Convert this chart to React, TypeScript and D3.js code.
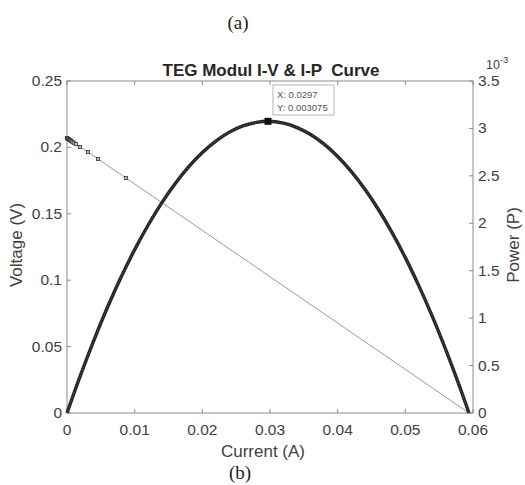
import React, { useEffect, useRef } from "react";
import * as d3 from "d3";

// I-V points (current A, voltage V)
const ivCurrent = [0, 0.0001, 0.0002, 0.0003, 0.0004, 0.0005, 0.0006, 0.0008, 0.001, 0.0013, 0.0019, 0.0031, 0.0046, 0.0087, 0.0594];
const ivVoltage = [0.207, 0.2067, 0.2063, 0.206, 0.2056, 0.2053, 0.2049, 0.2042, 0.2035, 0.2025, 0.2003, 0.1965, 0.1913, 0.177, 0];

// I-P points (current A, power W)
const ipCurrent = [0, 0.002, 0.004, 0.006, 0.008, 0.01, 0.012, 0.014, 0.016, 0.018, 0.02, 0.022, 0.024, 0.026, 0.028, 0.0297, 0.032, 0.034, 0.036, 0.038, 0.04, 0.042, 0.044, 0.046, 0.048, 0.05, 0.052, 0.054, 0.056, 0.058, 0.0594];
const ipPower = [0, 0.0004, 0.000772, 0.001117, 0.001433, 0.001722, 0.001982, 0.002215, 0.00242, 0.002597, 0.002746, 0.002867, 0.002961, 0.003026, 0.003064, 0.003075, 0.003055, 0.003009, 0.002936, 0.002834, 0.002704, 0.002547, 0.002361, 0.002148, 0.001907, 0.001638, 0.00134, 0.001016, 0.000663, 0.000283, 0];

const xTicks = [0, 0.01, 0.02, 0.03, 0.04, 0.05, 0.06];
const vTicks = [0, 0.05, 0.1, 0.15, 0.2, 0.25];
const pTicks = [0, 0.5, 1, 1.5, 2, 2.5, 3, 3.5];

const peak = { x: 0.0297, y: 0.003075 };

const W = 525;
const H = 485;
const font = "Liberation Sans, Arial, sans-serif";
const serif = "Liberation Serif, Times New Roman, serif";
const axisColor = "#8c8c8c";
const textColor = "#404040";

export default function App() {
  const ref = useRef<SVGSVGElement>(null);

  useEffect(() => {
    const svg = d3.select(ref.current);
    svg.selectAll("*").remove();

    const left = 67, right = 473, top = 81, bottom = 413;
    const x = d3.scaleLinear().domain([0, 0.06]).range([left, right]);
    const yV = d3.scaleLinear().domain([0, 0.25]).range([bottom, top]);
    const yP = d3.scaleLinear().domain([0, 3.5]).range([bottom, top]);

    svg.append("rect").attr("width", W).attr("height", H).attr("fill", "#fff");

    // frame
    svg.append("rect")
      .attr("x", left).attr("y", top)
      .attr("width", right - left).attr("height", bottom - top)
      .attr("fill", "none").attr("stroke", axisColor).attr("stroke-width", 1);

    const tickLen = 4;
    const tickSize = 15.5;
    xTicks.forEach((t) => {
      svg.append("line").attr("x1", x(t)).attr("x2", x(t)).attr("y1", bottom).attr("y2", bottom - tickLen).attr("stroke", axisColor);
      svg.append("line").attr("x1", x(t)).attr("x2", x(t)).attr("y1", top).attr("y2", top + tickLen).attr("stroke", axisColor);
      svg.append("text").text(String(t)).attr("x", x(t)).attr("y", 435)
        .attr("text-anchor", "middle").attr("font-size", tickSize).attr("font-family", font).attr("fill", textColor);
    });
    vTicks.forEach((t) => {
      svg.append("line").attr("x1", left).attr("x2", left + tickLen).attr("y1", yV(t)).attr("y2", yV(t)).attr("stroke", axisColor);
      svg.append("text").text(String(t)).attr("x", left - 5).attr("y", yV(t) + 5)
        .attr("text-anchor", "end").attr("font-size", tickSize).attr("font-family", font).attr("fill", textColor);
    });
    pTicks.forEach((t) => {
      svg.append("line").attr("x1", right).attr("x2", right - tickLen).attr("y1", yP(t)).attr("y2", yP(t)).attr("stroke", axisColor);
      svg.append("text").text(String(t)).attr("x", right + 5).attr("y", yP(t) + 5)
        .attr("text-anchor", "start").attr("font-size", tickSize).attr("font-family", font).attr("fill", textColor);
    });

    // exponent
    const ex = svg.append("text").attr("x", 486).attr("y", 69)
      .attr("font-size", 12.5).attr("font-family", font).attr("fill", textColor);
    ex.append("tspan").text("10");
    ex.append("tspan").text("-3").attr("font-size", 9.5).attr("dy", -6);

    // I-V line
    const vLine = d3.line<number>().x((_, i) => x(ivCurrent[i])).y((d) => yV(d));
    svg.append("path").attr("d", vLine(ivVoltage))
      .attr("fill", "none").attr("stroke", "#9a9a9a").attr("stroke-width", 1);
    svg.selectAll(".vm").data(ivVoltage.slice(0, -1)).enter().append("rect")
      .attr("x", (_, i) => x(ivCurrent[i]) - 1.6).attr("y", (d) => yV(d) - 1.6)
      .attr("width", 3.2).attr("height", 3.2)
      .attr("fill", "#bbb").attr("stroke", "#333").attr("stroke-width", 0.8);

    // I-P curve
    const pLine = d3.line<number>()
      .x((_, i) => x(ipCurrent[i])).y((d) => yP(d * 1000))
      .curve(d3.curveCatmullRom);
    svg.append("path").attr("d", pLine(ipPower))
      .attr("fill", "none").attr("stroke", "#222").attr("stroke-width", 3.4);
    svg.append("path").attr("d", pLine(ipPower))
      .attr("fill", "none").attr("stroke", "#666").attr("stroke-width", 0.8)
      .attr("stroke-dasharray", "1.5 1.5");

    // datatip
    const px = x(peak.x), py = yP(peak.y * 1000);
    svg.append("rect").attr("x", px - 3.5).attr("y", py - 3.5).attr("width", 7).attr("height", 7).attr("fill", "#111");
    svg.append("rect").attr("x", px + 5).attr("y", 85).attr("width", 61).attr("height", 30)
      .attr("fill", "#fff").attr("stroke", "#b5b5b5").attr("stroke-width", 1);
    svg.append("text").text(`X: ${peak.x}`).attr("x", px + 9).attr("y", 98)
      .attr("font-size", 9.5).attr("font-family", font).attr("fill", "#555");
    svg.append("text").text(`Y: ${peak.y}`).attr("x", px + 9).attr("y", 111)
      .attr("font-size", 9.5).attr("font-family", font).attr("fill", "#555");

    // titles
    svg.append("text").text("TEG Modul I-V & I-P  Curve").attr("x", 271).attr("y", 76)
      .attr("text-anchor", "middle").attr("font-size", 17).attr("font-weight", "bold")
      .attr("font-family", font).attr("fill", "#262626").style("white-space", "pre");
    svg.append("text").text("Current (A)").attr("x", 263).attr("y", 457)
      .attr("text-anchor", "middle").attr("font-size", 17).attr("font-family", font).attr("fill", textColor);
    svg.append("text").text("Voltage (V)").attr("transform", `translate(22, 245) rotate(-90)`)
      .attr("text-anchor", "middle").attr("font-size", 17).attr("font-family", font).attr("fill", textColor);
    svg.append("text").text("Power (P)").attr("transform", `translate(519, 245) rotate(-90)`)
      .attr("text-anchor", "middle").attr("font-size", 17).attr("font-family", font).attr("fill", textColor);

    svg.append("text").text("(a)").attr("x", 238).attr("y", 29)
      .attr("text-anchor", "middle").attr("font-size", 19).attr("font-family", serif).attr("fill", "#222");
    svg.append("text").text("(b)").attr("x", 240).attr("y", 479)
      .attr("text-anchor", "middle").attr("font-size", 19).attr("font-family", serif).attr("fill", "#222");
  }, []);

  return (
    <svg ref={ref} width={W} height={H} style={{ position: "absolute", left: 0, top: 0 }} />
  );
}
